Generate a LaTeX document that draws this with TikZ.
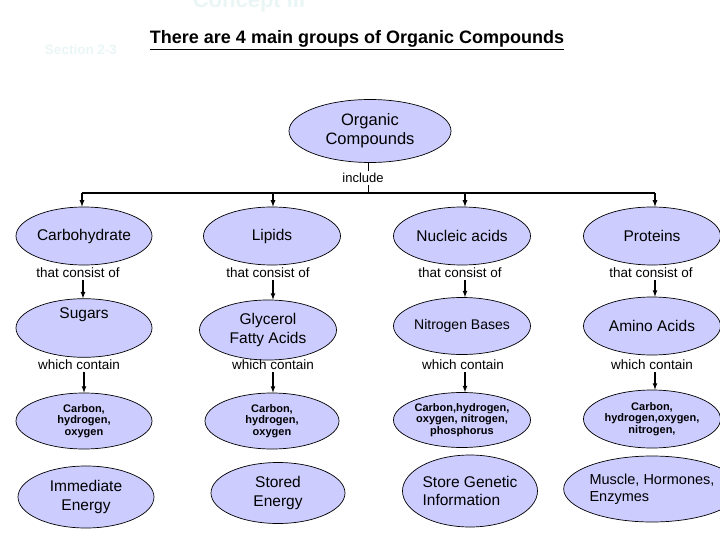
\documentclass[tikz,border=0pt]{standalone}
\usepackage{fontspec}
\setmainfont{Liberation Sans}
\usetikzlibrary{arrows, shapes.geometric}
\definecolor{lav}{RGB}{204,204,255}
\definecolor{ghost}{RGB}{234,246,246}
\newcommand\fs[1]{\fontsize{#1}{1.2\dimexpr #1pt\relax}\selectfont}
\tikzset{
  blob/.style={draw, ellipse, fill=lav, line width=0.7pt, inner sep=0pt, align=center, font=\fs{15.5}},
  elem/.style={blob, font=\bfseries\fontsize{11}{11.5}\selectfont},
  link/.style={font=\fs{13.5}, inner sep=2pt},
  go/.style={->, >=latex, line width=1.2pt}
}

\begin{document}
\begin{tikzpicture}[x=1pt, y=-1pt]
\clip (0,0) rectangle (720,540);
\fill[white] (0,0) rectangle (720,540);
\node[text=ghost, font=\bfseries\fs{22}, anchor=base] (concept) at (249,8) {Concept III};
\node[text=ghost, font=\bfseries\fs{13.5}] (sect) at (81,50) {Section 2-3};
\node[font=\bfseries\fs{18}] (title) at (357,40) {\underline{There are 4 main groups of Organic Compounds}};

\node[blob, minimum width=162, minimum height=63, font=\fs{16.5}] (root) at (370,131) {Organic\\[-1pt]Compounds};
\node[link, font=\fs{13}] (inc) at (363,178) {include};
\coordinate (top) at (368,193);
\coordinate (b1) at (82,193);
\coordinate (b2) at (273,193);
\coordinate (b3) at (465,193);
\coordinate (b4) at (655,193);

\node[blob, minimum width=136, minimum height=58] (carb) at (84,236) {Carbohydrate};
\node[blob, minimum width=137, minimum height=58] (lip) at (272,236) {Lipids};
\node[blob, minimum width=137, minimum height=58] (nuc) at (462,236) {Nucleic acids};
\node[blob, minimum width=137, minimum height=58] (prot) at (652,236) {Proteins};

\node[link] (tc1) at (78,273) {that consist of};
\node[link] (tc2) at (268,273) {that consist of};
\node[link] (tc3) at (460,273) {that consist of};
\node[link] (tc4) at (651,273) {that consist of};

\node[blob, minimum width=136, minimum height=58] (sug) at (84,328) {Sugars\\[12pt]~};
\node[blob, minimum width=137, minimum height=60] (gly) at (268,330) {Glycerol\\Fatty Acids};
\node[blob, minimum width=137, minimum height=57, font=\fs{14}] (nit) at (462,326) {Nitrogen Bases};
\node[blob, minimum width=137, minimum height=58] (ami) at (652,326) {Amino Acids};

\node[link] (wc1) at (79,365) {which contain};
\node[link] (wc2) at (273,365) {which contain};
\node[link] (wc3) at (463,365) {which contain};
\node[link] (wc4) at (652,365) {which contain};

\node[elem, minimum width=136, minimum height=56] (el1) at (84,421) {Carbon,\\hydrogen,\\oxygen};
\node[elem, minimum width=134, minimum height=56] (el2) at (272,421) {Carbon,\\hydrogen,\\oxygen};
\node[elem, minimum width=137, minimum height=55] (el3) at (462,420) {Carbon,hydrogen,\\oxygen, nitrogen,\\phosphorus};
\node[elem, minimum width=137, minimum height=58] (el4) at (652,419) {Carbon,\\hydrogen,oxygen,\\nitrogen,};

\node[blob, minimum width=136, minimum height=62] (use1) at (86,497) {Immediate\\Energy};
\node[blob, minimum width=134, minimum height=61] (use2) at (278,493) {Stored\\Energy};
\node[blob, minimum width=135, minimum height=72, align=left] (use3) at (470,491) {Store Genetic\\Information};
\node[blob, minimum width=137, minimum height=66, align=left, font=\fs{14.5}] (use4) at (652,489) {Muscle, Hormones,\\Enzymes};

\draw[line width=0.6pt] (root.south -| top) -- (inc.north -| top);
\draw[line width=0.6pt] (inc.south -| top) -- (top);
\draw[line width=1.2pt] (b1) -- (b4);
\draw[go] (b1) -- (b1 |- carb.north);
\draw[go] (b2) -- (b2 |- lip.north);
\draw[go] (b3) -- (b3 |- nuc.north);
\draw[go] (b4) -- (b4 |- prot.north);

\draw[go] (tc1.south -| 83,0) -- (83,0 |- sug.north);
\draw[go] (tc2.south -| 273,0) -- (273,0 |- gly.north);
\draw[go] (tc3.south -| 465,0) -- (465,0 |- nit.north);
\draw[go] (tc4.south -| 655,0) -- (655,0 |- ami.north);

\draw[go] (wc1.south -| 84,0) -- (84,0 |- el1.north);
\draw[go] (wc2.south -| 273,0) -- (273,0 |- el2.north);
\draw[go] (wc3.south -| 465,0) -- (465,0 |- el3.north);
\draw[go] (wc4.south -| 655,0) -- (655,0 |- el4.north);
\end{tikzpicture}
\end{document}
